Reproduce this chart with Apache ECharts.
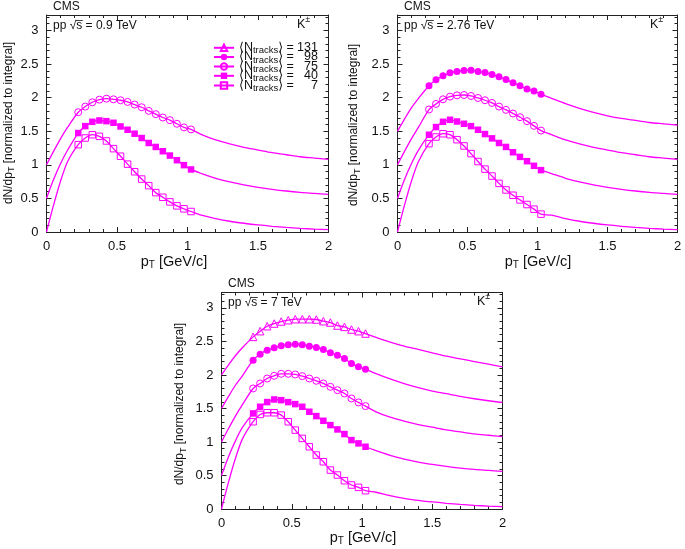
<!DOCTYPE html>
<html><head><meta charset="utf-8">
<script src="https://cdn.jsdelivr.net/npm/echarts@6/dist/echarts.min.js"></script>
<style>html,body{margin:0;padding:0;background:#fff}#c{width:685px;height:549px}</style>
</head><body><div id="c"></div><script>
// ---- data ----
const xPts = [0.225,0.275,0.325,0.375,0.425,0.475,0.525,0.575,0.625,0.675,0.725,0.775,0.825,0.875,0.925,0.975,1.025];
const headX = [0, 0.05, 0.1, 0.15];
const tailX = [1.1, 1.2, 1.3, 1.4, 1.5, 1.6, 1.7, 1.8, 1.9, 2.0];
const xTicks = ['0','0.5','1','1.5','2'];
const yTicks = ['0','0.5','1','1.5','2','2.5','3'];
const classNames = ['131','98','75','40','7'];

// pp 0.9 TeV
const p09_n75 = [1.783,1.867,1.931,1.970,1.985,1.975,1.961,1.936,1.897,1.857,1.803,1.754,1.704,1.665,1.611,1.557,1.527];
const p09_n40 = [1.473,1.576,1.640,1.660,1.650,1.626,1.571,1.522,1.463,1.399,1.325,1.266,1.202,1.138,1.069,0.995,0.931];
const p09_n7  = [1.300,1.399,1.448,1.424,1.355,1.241,1.128,1.010,0.897,0.788,0.690,0.586,0.517,0.448,0.389,0.345,0.305];
// pp 2.76 TeV
const p276_n98 = [2.177,2.266,2.325,2.369,2.389,2.404,2.409,2.389,2.374,2.345,2.310,2.271,2.222,2.177,2.128,2.099,2.049];
const p276_n75 = [1.823,1.906,1.975,2.015,2.034,2.039,2.025,1.995,1.961,1.921,1.867,1.818,1.764,1.709,1.650,1.580,1.510];
const p276_n40 = [1.448,1.562,1.640,1.670,1.645,1.611,1.576,1.522,1.458,1.394,1.325,1.266,1.187,1.118,1.054,0.985,0.921];
const p276_n7  = [1.315,1.414,1.463,1.448,1.374,1.281,1.167,1.049,0.936,0.833,0.724,0.626,0.547,0.478,0.409,0.340,0.266];
// pp 7 TeV
const p7_n131 = [2.568,2.653,2.727,2.767,2.797,2.817,2.832,2.832,2.832,2.827,2.802,2.782,2.737,2.717,2.678,2.653,2.618];
const p7_n98  = [2.221,2.310,2.370,2.404,2.434,2.449,2.459,2.449,2.429,2.409,2.380,2.330,2.295,2.245,2.171,2.121,2.086];
const p7_n75  = [1.798,1.873,1.947,1.987,2.017,2.017,2.007,1.982,1.947,1.913,1.873,1.823,1.773,1.724,1.649,1.590,1.535];
const p7_n40  = [1.426,1.525,1.595,1.634,1.624,1.595,1.565,1.525,1.451,1.386,1.316,1.252,1.187,1.118,1.028,0.979,0.929];
const p7_n7   = [1.302,1.411,1.436,1.436,1.401,1.302,1.177,1.053,0.929,0.805,0.705,0.581,0.507,0.422,0.358,0.323,0.273];

// fit curves outside the measured range (read at headX / tailX)
const head_n7   = [0, 0.40, 0.76, 1.05];
const head_n40  = [0.5, 0.78, 1.02, 1.22];
const head_n75  = [1.0, 1.20, 1.39, 1.56];
const head_n98  = [1.5, 1.68, 1.85, 1.99];
const head_n131 = [2.0, 2.15, 2.29, 2.41];
const tail_n7   = [0.25, 0.20, 0.16, 0.13, 0.105, 0.085, 0.068, 0.054, 0.043, 0.034];
const tail_n40  = [0.87, 0.80, 0.745, 0.70, 0.665, 0.635, 0.61, 0.59, 0.575, 0.56];
const tail_n75  = [1.45, 1.37, 1.31, 1.26, 1.22, 1.18, 1.15, 1.12, 1.10, 1.08];
const tail_n98_276 = [1.99, 1.91, 1.84, 1.78, 1.73, 1.69, 1.66, 1.63, 1.61, 1.59];
const tail_n98_7   = [2.02, 1.94, 1.87, 1.81, 1.76, 1.72, 1.68, 1.645, 1.615, 1.59];
const tail_n131 = [2.56, 2.49, 2.43, 2.38, 2.33, 2.28, 2.24, 2.20, 2.16, 2.12];

// ---- styling / layout ----
const FONT = '"Liberation Sans", Arial, "DejaVu Sans", sans-serif';
const MAG = '#ff00ff';
const INK = '#111';
const markers = {
  '131': {symbol:'triangle', filled:false, size:7.5},
  '98':  {symbol:'circle', filled:true, size:7},
  '75':  {symbol:'circle', filled:false, size:7},
  '40':  {symbol:'rect', filled:true, size:6.5},
  '7':   {symbol:'rect', filled:false, size:6.5}
};
const panels = [
  {left:46.5, top:15, width:282, height:217, energy:'0.9', kx:297, xname:[174,262], yname:[8.5,123],
   cls:[['75',p09_n75,head_n75,tail_n75],['40',p09_n40,head_n40,tail_n40],['7',p09_n7,head_n7,tail_n7]]},
  {left:397.5, top:15, width:280, height:217, energy:'2.76', kx:650, xname:[538,262], yname:[354,125],
   cls:[['98',p276_n98,head_n98,tail_n98_276],['75',p276_n75,head_n75,tail_n75],['40',p276_n40,head_n40,tail_n40],['7',p276_n7,head_n7,tail_n7]]},
  {left:221.5, top:292.5, width:281, height:216.5, energy:'7', kx:477, xname:[363,538], yname:[180,404],
   cls:[['131',p7_n131,head_n131,tail_n131],['98',p7_n98,head_n98,tail_n98_7],['75',p7_n75,head_n75,tail_n75],['40',p7_n40,head_n40,tail_n40],['7',p7_n7,head_n7,tail_n7]]}
];
const YMAX = 3.23;

const grid = [], xAxis = [], yAxis = [], series = [], graphic = [];
const lineAx = {show:true, onZero:false, lineStyle:{color:'#222', width:1}};
const tick = {show:true, inside:true, length:5, lineStyle:{color:'#222', width:1}};
const minor = {show:true, splitNumber:5, length:3, lineStyle:{color:'#222', width:1}};
const lab = {fontSize:13, color:INK, fontFamily:FONT, margin:8};

panels.forEach((p, i) => {
  grid.push({left:p.left, top:p.top, width:p.width, height:p.height});
  const xb = {type:'value', gridIndex:i, min:0, max:2, interval:0.5, axisLine:lineAx, axisTick:tick, minorTick:minor,
    splitLine:{show:false}, axisLabel:Object.assign({}, lab, {formatter:(v)=>xTicks[Math.round(v/0.5)]})};
  xAxis.push(xb);
  xAxis.push(Object.assign({}, xb, {position:'top', axisLabel:{show:false}}));
  const yl = {type:'value', gridIndex:i, min:0, max:YMAX, interval:0.5, axisLine:lineAx, axisTick:tick, minorTick:minor,
    splitLine:{show:false}, axisLabel:Object.assign({}, lab, {showMaxLabel:false, formatter:(v)=>{const k=Math.round(v/0.5); return Math.abs(k*0.5-v)<1e-6 ? (yTicks[k]||'') : '';}})};
  yAxis.push(yl);
  yAxis.push(Object.assign({}, yl, {position:'right', axisLabel:{show:false}}));

  p.cls.forEach(([name, pts, head, tail], j) => {
    const m = markers[name];
    const data = [];
    head.forEach((y,k)=>data.push({value:[headX[k], y], symbol:'none'}));
    pts.forEach((y,k)=>data.push([xPts[k], y]));
    tail.forEach((y,k)=>data.push({value:[tailX[k], y], symbol:'none'}));
    series.push({
      type:'line', name:name, xAxisIndex:2*i, yAxisIndex:2*i, smooth:0.3,
      showSymbol:true, showAllSymbol:true, symbol:m.symbol, symbolSize:m.size,
      lineStyle:{color:MAG, width:1.3},
      itemStyle: m.filled ? {color:MAG} : {color:'rgba(255,255,255,0)', borderColor:MAG, borderWidth:1},
      data:data, animation:false, silent:true, z:3+j
    });
  });

  // texts
  graphic.push({type:'text', x:p.left+6.5, y:p.top-8.5, style:{text:'CMS', fontSize:12, fontFamily:FONT, fill:INK, verticalAlign:'middle'}});
  graphic.push({type:'text', x:p.left+6.5, y:p.top+10.5, style:{text:'pp √s\u0305 = '+p.energy+' TeV', fontSize:12, fontFamily:FONT, fill:INK, verticalAlign:'middle'}});
  graphic.push({type:'text', x:p.kx, y:p.top+8, style:{text:'{k|K}{p|±}', fill:INK, verticalAlign:'middle',
    rich:{k:{fontSize:12.5, fontFamily:FONT, lineHeight:16, fill:INK, verticalAlign:'bottom'}, p:{fontSize:9, fontFamily:FONT, lineHeight:8, fill:INK, verticalAlign:'top'}}}});
  graphic.push({type:'text', x:p.xname[0], y:p.xname[1], style:{text:'{a|p}{s|T}{a| [GeV/c]}', align:'center', verticalAlign:'middle', fill:INK,
    rich:{a:{fontSize:14.5, fontFamily:FONT, lineHeight:16, fill:INK}, s:{fontSize:10, fontFamily:FONT, lineHeight:8, verticalAlign:'bottom', fill:INK}}}});
  graphic.push({type:'text', x:p.yname[0], y:p.yname[1], rotation:Math.PI/2, style:{text:'{a|dN/dp}{s|T}{a| [normalized to integral]}', align:'center', verticalAlign:'middle', fill:INK,
    rich:{a:{fontSize:12, fontFamily:FONT, lineHeight:16, fill:INK}, s:{fontSize:9, fontFamily:FONT, lineHeight:8, verticalAlign:'bottom', fill:INK}}}});
});

// legend rows (panel 1)
const legendRows = [49.3, 58.5, 68, 77.3, 87];
const legend = classNames.map((name, r) => ({
  data:[name], left:213, top:legendRows[r]-8, padding:0, itemWidth:20, itemHeight:8, itemGap:0, itemTextGap:4,
  selectedMode:false,
  formatter:(n)=>'{a|⟨N}{s|tracks}{a|⟩ =}{n|'+n+'}',
  textStyle:{color:INK, fontFamily:FONT, fontSize:12, rich:{
    a:{fontSize:12.5, fontFamily:FONT, lineHeight:16, color:INK},
    s:{fontSize:9.5, fontFamily:FONT, lineHeight:8, verticalAlign:'bottom', color:INK},
    n:{fontSize:12.5, fontFamily:FONT, lineHeight:16, color:INK, width:24, align:'right'}}}
}));

const chart = echarts.init(document.getElementById('c'), null, {renderer:'canvas'});
chart.setOption({backgroundColor:'#fff', animation:false, grid, xAxis, yAxis, series, legend, graphic});
</script></body></html>
